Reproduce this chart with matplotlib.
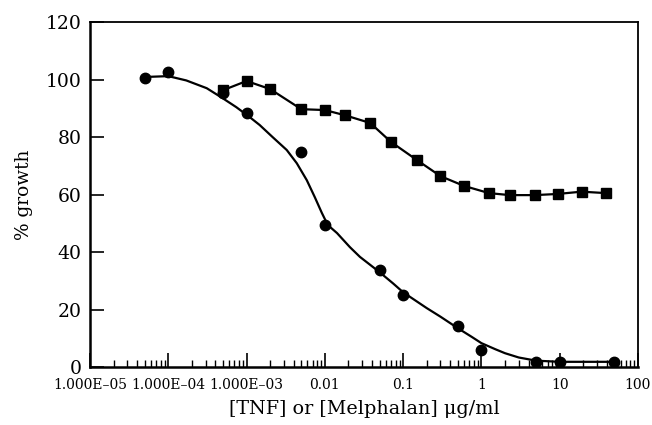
import matplotlib
matplotlib.use("Agg")
import matplotlib.pyplot as plt
from matplotlib.ticker import FixedLocator, LogLocator, NullFormatter

# TNF (circles) data points
tnf_x = [5e-5, 1e-4, 5e-4, 1e-3, 5e-3, 0.01, 0.05, 0.1, 0.5, 1, 5, 10, 50]
tnf_y = [100.5, 102.6, 95.3, 88.3, 74.8, 49.4, 33.7, 25.0, 14.3, 5.9, 1.8, 1.8, 1.8]

# fitted curve through TNF data
fit_x = [5e-5, 1e-4, 1.7e-4, 3.1e-4, 4.9e-4, 7.4e-4, 1.09e-3, 1.47e-3, 2.15e-3,
         3.26e-3, 4.38e-3, 5.88e-3, 7.44e-3, 9.16e-3, 0.0109, 0.0143, 0.0209,
         0.0281, 0.05, 0.075, 0.1, 0.2, 0.3, 0.5, 0.75, 1, 1.5, 2, 3, 5, 10, 20, 50]
fit_y = [100.9, 101.2, 99.7, 97.0, 93.6, 90.4, 87.0, 84.2, 80.0,
         75.5, 70.9, 65.0, 59.1, 53.6, 49.4, 46.6, 41.7,
         38.3, 33.0, 29.0, 26.0, 20.5, 17.5, 13.5, 10.5, 8.3, 6.2, 4.8, 3.3, 2.2, 1.8, 1.8, 1.8]

# Melphalan (squares)
mel_x = [5e-4, 1e-3, 2e-3, 5e-3, 0.01, 0.018, 0.038, 0.07, 0.15, 0.3, 0.6,
         1.25, 2.3, 4.8, 9.4, 19, 39]
mel_y = [96.3, 99.5, 96.7, 89.7, 89.4, 87.6, 84.9, 78.3, 72.0, 66.4, 63.0,
         60.5, 59.8, 59.8, 60.2, 61.0, 60.5]

xtick_vals = [1e-5, 1e-4, 1e-3, 0.01, 0.1, 1, 10, 100]
xtick_labels = ["1.000E\u201305", "1.000E\u201304", "1.000E\u201303", "0.01",
                "0.1", "1", "10", "100"]
ytick_vals = [0, 20, 40, 60, 80, 100, 120]

plt.rcParams['font.family'] = ['DejaVu Serif']

fig = plt.figure(figsize=(6.52, 4.25), dpi=100)
ax = fig.add_axes([0.138, 0.1365, 0.8405, 0.8115])

ax.plot(fit_x, fit_y, color='black', lw=1.6, zorder=2)
ax.plot(tnf_x, tnf_y, 'o', color='black', ms=7.5, zorder=3)
ax.plot(mel_x, mel_y, '-s', color='black', lw=1.6, ms=6.5, zorder=3)

ax.set_xscale('log')
ax.set_xlim(1e-5, 100)
ax.set_ylim(0, 120)

ax.xaxis.set_major_locator(FixedLocator(xtick_vals))
ax.set_xticklabels(xtick_labels, fontsize=10)
ax.xaxis.set_minor_locator(LogLocator(base=10, subs=[2, 3, 4, 5, 6, 7, 8, 9], numticks=20))
ax.xaxis.set_minor_formatter(NullFormatter())
ax.set_yticks(ytick_vals)
ax.set_yticklabels([str(v) for v in ytick_vals], fontsize=13.5)

ax.tick_params(axis='x', which='major', direction='in', length=10, width=1.2, pad=8)
ax.tick_params(axis='x', which='minor', direction='in', length=5, width=1.0)
ax.tick_params(axis='y', which='major', direction='in', length=10, width=1.2, pad=6)
ax.tick_params(top=False, right=False)

for s in ax.spines.values():
    s.set_linewidth(1.3)
ax.spines['left'].set_linewidth(1.8)
ax.spines['bottom'].set_linewidth(1.8)

ax.set_xlabel("[TNF] or [Melphalan] \u03bcg/ml", fontsize=13.8, labelpad=6)
ax.set_ylabel("% growth", fontsize=13.3, labelpad=9)

fig.savefig("out.png", dpi=100)
